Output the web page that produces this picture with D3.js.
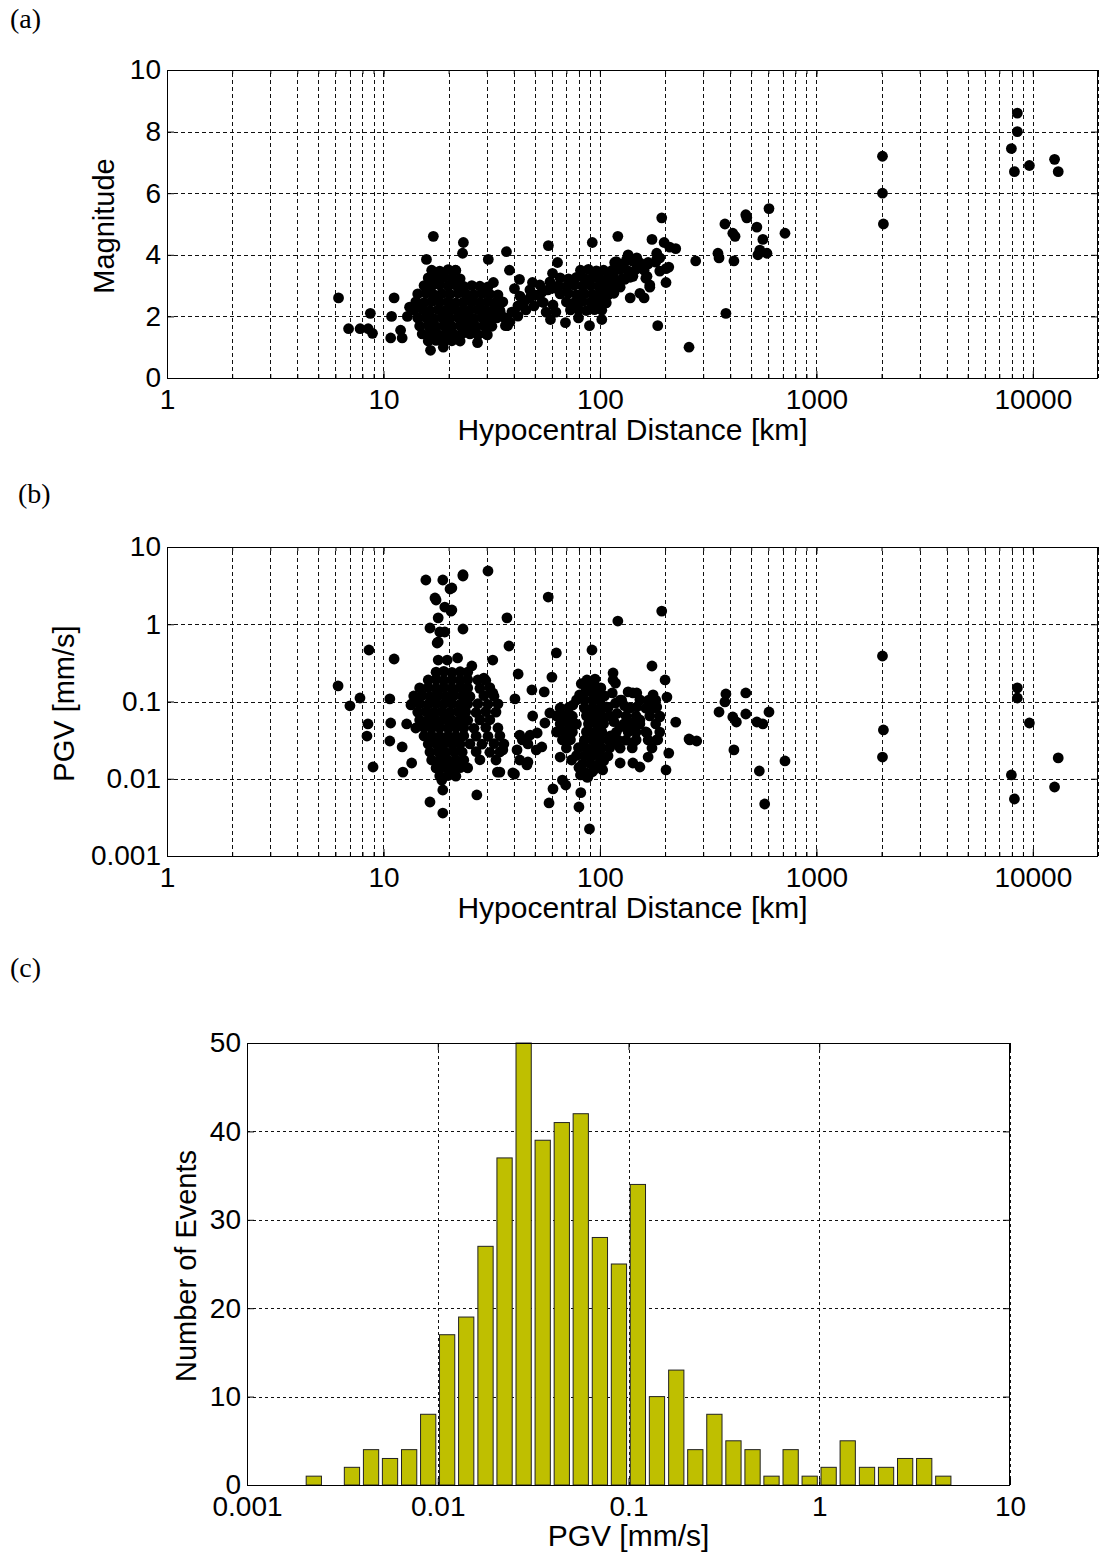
<!DOCTYPE html>
<html><head><meta charset="utf-8">
<script src="https://cdn.jsdelivr.net/npm/d3@7"></script>
<style>body{margin:0;background:#fff}</style>
</head><body>
<svg id="chart" width="1099" height="1555" xmlns="http://www.w3.org/2000/svg"></svg>
<script>
// ---------------- DATA ----------------
const distanceTicks = [1, 10, 100, 1000, 10000];
const magnitudeTicks = [0, 2, 4, 6, 8, 10];
const pgvTicks = [0.001, 0.01, 0.1, 1, 10];
const countTicks = [0, 10, 20, 30, 40, 50];

// (a) [hypocentral distance km, magnitude]
const magnitudePoints = [
[6.2,2.6],[6.9,1.6],[7.8,1.6],[8.5,1.6],[8.9,1.45],[8.7,2.1],[10.8,1.3],[10.9,2.0],[11.2,2.6],[12.2,1.3],[12.9,2.0],[13.6,2.3],[12.0,1.55],[13.2,2.3],
[15.8,3.85],[17.0,4.6],[16.5,0.9],[18.9,1.0],[23.4,4.4],[23.2,4.05],[21.5,3.5],[27.2,1.15],[30.5,3.85],[32.2,3.1],[30.2,1.4],[36.6,1.7],[37.4,1.7],[34.7,2.1],
[37,4.1],[38.2,3.5],[42.5,3.2],[40.3,2.9],[48.8,3.1],[54.8,2.45],[57.8,4.3],[63.7,3.75],[60.4,3.4],[59.1,1.9],[69.3,1.8],[79.6,1.95],[89.5,1.7],[102,1.9],[92.2,4.4],
[121,4.6],[174,4.5],[193,5.2],[198,4.4],[224,4.2],[277,3.8],[185,1.7],[258,1.0],[160,2.6],[202,3.1],[202,3.55],[135,4.0],[117,3.75],[148,3.9],[183,4.05],[208,3.6],
[382,2.1],[378,5.0],[411,4.7],[421,4.6],[472,5.3],[477,5.2],[531,4.9],[604,5.5],[716,4.7],[351,4.05],[355,3.9],[416,3.8],[566,4.5],[548,4.15],[537,4.0],[591,4.05],
[2020,7.2],[2020,6.0],[2040,5.0],[8480,8.6],[8480,8.0],[7960,7.45],[8220,6.7],[9640,6.9],[12600,7.1],[13100,6.7],
[119,3.75],[133,3.85],[167,3.75],[189,3.9],[165,3.3],[170,2.95],[138,2.6],[115,3.4],[124,2.95],[108,2.75],[100,2.55],[158,3.6],[142,3.3],[183,3.85],[210,4.25],[153,2.75],[130,3.2],
[119,3.78],[129,3.72],[141,3.8],[153,3.74],[167,3.7],[181,3.76],[114,3.5],[124,3.52],[135,3.48],[147,3.53],[160,3.5],[189,3.47],[116,3.25],[127,3.22],[138,3.27],[163,3.24],[111,3.0],[121,2.98],[170,3.02],[107,2.72],[116,2.75],
[36.4,1.95],[39.2,2.14],[41.8,2.34],[44.6,2.47],[47.5,2.6],[50.6,2.69],[54.0,2.79],[57.5,2.86],[61.3,2.92],[38.4,1.82],[41.8,2.01],[45.5,2.21],[49.6,2.34],[54.0,2.47],[42.7,2.66],[47.5,2.86],[52.8,3.02],[58.8,3.12],[56.4,2.14],[60.7,2.37],[62.6,2.14],
[81.3,3.5],[88.5,3.53],[96.3,3.48],[104,3.5],
[65.5,3.25],[71.6,3.22],[77.9,3.27],[84.8,3.24],[92.3,3.26],[100,3.22],[109,3.25],
[64.3,3.0],[70,2.97],[76.2,3.02],[83,2.99],[90.4,3.01],[98.4,2.98],[107,3.0],[116,2.97],
[65.5,2.73],[71.6,2.75],[77.9,2.71],[84.8,2.74],[92.3,2.72],[100,2.75],[109,2.7],
[70,2.47],[76.2,2.45],[83,2.49],[90.4,2.46],[98.4,2.48],[107,2.44],
[73.1,2.21],[79.6,2.23],[86.6,2.19],[94.3,2.22],[102,2.2],
[16.7,3.5],[18.2,3.47],[19.9,3.52],[21.6,3.49],
[16.1,3.25],[17.5,3.23],[19.0,3.27],[20.7,3.24],[22.6,3.22],
[15.4,3.0],[16.7,2.98],[18.2,3.02],[19.9,2.99],[21.6,3.01],[23.5,2.97],[25.6,3.0],[27.9,2.98],[30.4,2.96],
[14.4,2.73],[15.7,2.75],[17.1,2.71],[18.6,2.74],[20.3,2.72],[22.1,2.75],[24.0,2.73],[26.2,2.71],[28.5,2.74],[31.0,2.72],[33.8,2.7],
[14.1,2.47],[15.4,2.45],[16.7,2.49],[18.2,2.46],[19.9,2.48],[21.6,2.44],[23.5,2.47],[25.6,2.49],[27.9,2.45],[30.4,2.48],[33.1,2.46],[35.6,2.47],
[13.8,2.21],[15.1,2.23],[16.4,2.19],[17.9,2.22],[19.4,2.2],[21.2,2.23],[23.1,2.19],[25.1,2.21],[27.3,2.22],[29.7,2.2],[32.4,2.23],[34.5,2.2],
[14.4,1.95],[15.7,1.97],[17.1,1.93],[18.6,1.96],[20.3,1.94],[22.1,1.97],[24.0,1.95],[26.2,1.93],[28.5,1.96],[31.0,1.94],[33.4,1.95],
[14.7,1.69],[16.1,1.71],[17.5,1.67],[19.0,1.7],[20.7,1.68],[22.6,1.71],[24.5,1.69],[26.8,1.67],[29.1,1.7],[31.7,1.68],
[15.1,1.43],[16.4,1.45],[17.9,1.41],[19.4,1.44],[21.2,1.42],[23.1,1.45],[25.1,1.43],[27.3,1.41],[29.7,1.44],
[16.1,1.2],[17.5,1.22],[19.0,1.18],[20.7,1.21],[22.6,1.2]
];

// (b) [hypocentral distance km, PGV mm/s]
const pgvPoints = [
[6.17,0.159],[7.0,0.088],[7.79,0.111],[8.57,0.464],[8.48,0.0512],[8.39,0.0357],[8.95,0.0142],[11.2,0.355],[10.7,0.108],[10.8,0.0527],[10.7,0.0308],[12.2,0.0258],[12.3,0.0122],[13.5,0.016],[12.8,0.0512],[13.4,0.0902],
[15.7,3.74],[18.8,3.74],[20.3,2.86],[23.3,4.21],[30.4,4.89],[17.5,2.06],[19.2,1.67],[20.5,1.48],[17.9,1.21],[16.4,0.894],[23.3,0.868],[18.2,0.794],[17.7,0.571],
[37.2,1.21],[38.0,0.523],[32.0,0.344],[25.6,0.288],[41.9,0.227],[57.7,2.25],[62.9,0.425],[60.0,0.207],[91.9,0.464],[121,1.10],
[16.4,0.005],[18.8,0.0036],[18.8,0.00715],[27.0,0.00617],[33.6,0.0122],[40.3,0.0115],[58.2,0.00486],[60.7,0.0074],[80.0,0.00431],[81.6,0.0066],[89.5,0.00224],[69.5,0.0083],[103,0.013],[87.1,0.0105],[18.6,0.0096],
[17.9,0.344],[19.7,0.344],[22.0,0.366],[17.9,0.589],[19.2,0.794],[20.7,1.53],[17.3,2.19],[20.7,2.95],[23.3,4.37],[29.1,0.201],[32.0,0.129],
[193,1.48],[174,0.288],[200,0.19],[204,0.114],[224,0.054],[258,0.0327],[280,0.0308],[208,0.0215],[202,0.013],[115,0.234],[118,0.173],[148,0.129],[135,0.133],[176,0.122],
[382,0.125],[378,0.0986],[472,0.129],[355,0.0731],[411,0.063],[427,0.0543],[472,0.0689],[531,0.0543],[566,0.0512],[604,0.0731],[416,0.0236],[545,0.0126],[716,0.017],[577,0.00471],
[2020,0.388],[2040,0.0428],[2020,0.0191],[8480,0.15],[8480,0.111],[9640,0.0527],[7960,0.0112],[8220,0.00547],[13100,0.0186],[12600,0.00782],
[115,0.19],[114,0.129],[107,0.0849],[142,0.129],[148,0.0849],[170,0.104],[183,0.0849],[189,0.063],[153,0.0577],[138,0.0527],[124,0.0468],[165,0.0391],[183,0.0318],[142,0.029],[115,0.029],[124,0.016],[142,0.016],[153,0.0142],[167,0.0191],[260,0.0318],
[80.6,0.122],[87.1,0.19],[94.9,0.195],[92.3,0.133],[48.5,0.141],[55.3,0.133],[40.5,0.108],[48.9,0.0649],[58.7,0.071],[55.7,0.0527],[35.6,0.0236],[46.5,0.0165],[53.9,0.0258],[65.5,0.0191],[39.6,0.0119],[34.5,0.0122],[67.1,0.0096],[81.3,0.0112],[124,0.104],
[41.4,0.0236],[43.8,0.0318],[47.6,0.0368],[51.3,0.0391],[42.6,0.0175],[46.0,0.0151],[42.6,0.0368],[46.5,0.0282],[50.8,0.0236],
[82,0.17],[88,0.165],[95,0.16],[101,0.15],[86,0.135],[99,0.125],[105,0.118],[78,0.105],[75,0.09],[118,0.095],[130,0.088],[120,0.07],[116,0.055],[119,0.04],[112,0.036],[78,0.02],[74,0.0175],[80,0.014],[95,0.0135],[104,0.017],[88,0.0105],
[17.5,0.24],[19.0,0.245],[20.7,0.238],[22.6,0.243],[24.5,0.24],
[16.1,0.19],[17.5,0.193],[19.0,0.188],[20.7,0.191],[22.6,0.189],[24.5,0.192],[27.3,0.19],[29.7,0.187],
[14.7,0.15],[16.1,0.152],[17.5,0.148],[19.0,0.151],[20.7,0.149],[22.6,0.152],[24.5,0.15],[27.9,0.148],[31.0,0.151],
[13.8,0.118],[15.1,0.12],[16.4,0.116],[17.9,0.119],[19.4,0.117],[21.2,0.12],[23.1,0.118],[25.1,0.116],[29.1,0.119],[32.4,0.117],
[13.5,0.093],[14.7,0.094],[16.1,0.092],[17.5,0.0935],[19.0,0.0925],[20.7,0.094],[22.6,0.092],[24.5,0.093],[27.3,0.0935],[30.4,0.092],[33.8,0.093],
[14.4,0.073],[15.7,0.074],[17.1,0.072],[18.6,0.0735],[20.3,0.0725],[22.1,0.074],[24.0,0.073],[26.8,0.072],[29.7,0.074],[33.1,0.073],
[14.7,0.0577],[16.1,0.058],[17.5,0.057],[19.0,0.0585],[20.7,0.0575],[22.6,0.058],[24.5,0.057],[27.9,0.0578],[31.0,0.058],
[14.1,0.0454],[15.4,0.046],[16.7,0.045],[18.2,0.0458],[19.9,0.0452],[21.6,0.046],[23.5,0.0455],[26.2,0.045],[29.7,0.046],[33.8,0.0454],
[15.4,0.0357],[16.7,0.036],[18.2,0.0354],[19.9,0.0358],[21.6,0.0355],[23.5,0.036],[26.8,0.0356],[30.4,0.0354],[34.5,0.036],
[16.1,0.0282],[17.5,0.0285],[19.0,0.028],[20.7,0.0284],[22.6,0.0281],[25.1,0.0283],[28.5,0.028],[32.4,0.0285],[36.0,0.0282],
[16.4,0.0222],[17.9,0.0224],[19.4,0.022],[21.2,0.0223],[23.1,0.0221],[26.8,0.0224],[31.0,0.022],[34.5,0.0222],
[16.7,0.0175],[18.2,0.0177],[19.9,0.0173],[21.6,0.0176],[23.5,0.0174],[27.9,0.0176],[33.1,0.0175],
[17.5,0.0138],[19.0,0.014],[20.7,0.0137],[22.6,0.0139],[24.5,0.0138],
[18.2,0.0109],[19.9,0.011],[21.6,0.0108],
[84.8,0.104],[92.3,0.105],[100,0.103],[126,0.104],[153,0.105],[167,0.103],[181,0.104],
[65.5,0.0824],[71.6,0.083],[84.8,0.082],[92.3,0.0828],[100,0.0822],[109,0.083],[138,0.0824],[163,0.082],[178,0.0826],
[63,0.0649],[68.5,0.065],[74.6,0.0645],[86.6,0.0652],[94.3,0.0648],[102,0.065],[111,0.0646],[132,0.065],[147,0.0648],[170,0.0652],[189,0.0646],
[65.5,0.0512],[71.6,0.0515],[77.9,0.051],[88.5,0.0514],[96.3,0.0511],[104,0.0515],[129,0.0512],[141,0.051],[153,0.0514],[181,0.0512],
[63,0.0403],[68.5,0.0405],[74.6,0.0401],[86.6,0.0404],[94.3,0.0402],[102,0.0405],[135,0.0403],[147,0.0401],[163,0.0404],[189,0.0402],
[67.1,0.0318],[73.1,0.032],[84.8,0.0316],[92.3,0.0319],[100,0.0317],[109,0.032],[121,0.0318],[132,0.0316],[147,0.0319],[167,0.0317],[185,0.032],
[70,0.025],[79.6,0.0252],[86.6,0.0249],[94.3,0.0251],[102,0.025],[111,0.0252],[124,0.0249],[141,0.0251],[174,0.025],
[84.8,0.0197],[92.3,0.0199],[100,0.0196],[109,0.0198],
[83,0.0155],[90.4,0.0157],[98.4,0.0154],
[84.8,0.0122],[92.3,0.0123]
];

// (c) histogram of PGV (log-spaced bins, 0.1 decade)
const pgvBinCenters = [0.00224,0.00282,0.00355,0.00447,0.00562,0.00708,0.00891,0.0112,0.0141,0.0178,0.0224,0.0282,0.0355,0.0447,0.0562,0.0708,0.0891,0.112,0.141,0.178,0.224,0.282,0.355,0.447,0.562,0.708,0.891,1.12,1.41,1.78,2.24,2.82,3.55,4.47];
const eventCounts = [1,0,2,4,3,4,8,17,19,27,37,50,39,41,42,28,25,34,10,13,4,8,5,4,1,4,1,2,5,2,2,3,3,1];

// ---------------- DRAWING ----------------
const FONT = '"Liberation Sans", Arial, Helvetica, sans-serif';
const SERIF = '"Liberation Serif", "Times New Roman", serif';
const svg = d3.select('#chart');

function styleAxis(g, size) {
  g.select('.domain').remove();
  g.selectAll('line').attr('stroke', '#000');
  g.selectAll('text').attr('font-family', FONT).attr('font-size', size).attr('fill', '#000');
}

function drawGrid(g, x, y, o) {
  const [xl, xr] = x.range();
  const [yb, yt] = y.range();
  g.append('g').selectAll('line').data(o.xGrid).join('line')
    .attr('x1', d => Math.round(x(d)) + 0.5).attr('x2', d => Math.round(x(d)) + 0.5)
    .attr('y1', yb).attr('y2', yt)
    .attr('stroke', '#111').attr('stroke-width', 1).attr('stroke-dasharray', o.dash);
  g.append('g').selectAll('line').data(o.yGrid).join('line')
    .attr('y1', d => Math.round(y(d)) + 0.5).attr('y2', d => Math.round(y(d)) + 0.5)
    .attr('x1', xl).attr('x2', xr)
    .attr('stroke', '#111').attr('stroke-width', 1).attr('stroke-dasharray', o.dash);
}

function drawTicks(g, x, y, o) {
  const [xl, xr] = x.range();
  const [yb, yt] = y.range();
  const bx = g.append('g').attr('transform', `translate(0,${yb})`)
    .call(d3.axisBottom(x).tickValues(o.xMajor).tickFormat(o.xFmt).tickSizeInner(-7).tickSizeOuter(0).tickPadding(11));
  styleAxis(bx, 28);
  if (o.xMinor) {
    const bm = g.append('g').attr('transform', `translate(0,${yb})`)
      .call(d3.axisBottom(x).tickValues(o.xMinor).tickFormat('').tickSizeInner(-4).tickSizeOuter(0));
    styleAxis(bm, 1);
    const tm = g.append('g').attr('transform', `translate(0,${yt})`)
      .call(d3.axisTop(x).tickValues(o.xMinor).tickFormat('').tickSizeInner(-4).tickSizeOuter(0));
    styleAxis(tm, 1);
  }
  const tx = g.append('g').attr('transform', `translate(0,${yt})`)
    .call(d3.axisTop(x).tickValues(o.xMajor).tickFormat('').tickSizeInner(-7).tickSizeOuter(0));
  styleAxis(tx, 1);
  const ly = g.append('g').attr('transform', `translate(${xl},0)`)
    .call(d3.axisLeft(y).tickValues(o.yMajor).tickFormat(o.yFmt).tickSizeInner(-7).tickSizeOuter(0).tickPadding(6));
  styleAxis(ly, 28);
  const ry = g.append('g').attr('transform', `translate(${xr},0)`)
    .call(d3.axisRight(y).tickValues(o.yMajor).tickFormat('').tickSizeInner(-7).tickSizeOuter(0));
  styleAxis(ry, 1);
  g.append('rect').attr('x', xl + 0.5).attr('y', yt + 0.5)
    .attr('width', xr - xl - 1).attr('height', yb - yt)
    .attr('fill', 'none').attr('stroke', '#000').attr('stroke-width', 1);
  g.append('text').attr('x', (xl + xr) / 2).attr('y', yb + o.xTitleDy)
    .attr('text-anchor', 'middle').attr('font-family', FONT).attr('font-size', 30)
    .text(o.xTitle);
  g.append('text').attr('transform', `translate(${o.yTitleX},${(yb + yt) / 2 + 2}) rotate(-90)`)
    .attr('text-anchor', 'middle').attr('font-family', FONT).attr('font-size', 29)
    .text(o.yTitle);
}

const fmtNum = d => String(d);
const R = 5.4;

// ---- Panel (a)
{
  const x = d3.scaleLog().domain([1, 20000]).range([167, 1098]);
  const y = d3.scaleLinear().domain([0, 10]).range([378, 70]);
  const g = svg.append('g');
  drawGrid(g, x, y, { xGrid: x.ticks(), yGrid: magnitudeTicks, dash: '4,3' });
  drawTicks(g, x, y, { xMajor: distanceTicks, xMinor: x.ticks(), yMajor: magnitudeTicks, xFmt: fmtNum, yFmt: fmtNum,
    xTitle: 'Hypocentral Distance [km]', xTitleDy: 62, yTitle: 'Magnitude', yTitleX: 114 });
  g.append('g').selectAll('circle').data(magnitudePoints).join('circle')
    .attr('cx', d => x(d[0])).attr('cy', d => y(d[1])).attr('r', R).attr('fill', '#000');
  svg.append('text').attr('x', 10).attr('y', 28).attr('font-family', SERIF).attr('font-size', 28).text('(a)');
}

// ---- Panel (b)
{
  const x = d3.scaleLog().domain([1, 20000]).range([167, 1098]);
  const y = d3.scaleLog().domain([0.001, 10]).range([856, 547]);
  const g = svg.append('g');
  drawGrid(g, x, y, { xGrid: x.ticks(), yGrid: pgvTicks, dash: '4,3' });
  drawTicks(g, x, y, { xMajor: distanceTicks, xMinor: x.ticks(), yMajor: pgvTicks, xFmt: fmtNum, yFmt: fmtNum,
    xTitle: 'Hypocentral Distance [km]', xTitleDy: 62, yTitle: 'PGV [mm/s]', yTitleX: 74 });
  g.append('g').selectAll('circle').data(pgvPoints).join('circle')
    .attr('cx', d => x(d[0])).attr('cy', d => y(d[1])).attr('r', R).attr('fill', '#000');
  svg.append('text').attr('x', 18).attr('y', 503).attr('font-family', SERIF).attr('font-size', 28).text('(b)');
}

// ---- Panel (c)
{
  const x = d3.scaleLog().domain([0.001, 10]).range([247, 1010]);
  const y = d3.scaleLinear().domain([0, 50]).range([1485, 1043]);
  const g = svg.append('g');
  drawGrid(g, x, y, { xGrid: pgvTicks, yGrid: countTicks, dash: '3,3' });
  const halfWidthDecades = 0.04;
  const bins = pgvBinCenters.map((c, i) => ({ c, n: eventCounts[i] })).filter(b => b.n > 0);
  g.append('g').selectAll('rect').data(bins).join('rect')
    .attr('x', d => x(d.c / Math.pow(10, halfWidthDecades)))
    .attr('width', d => x(d.c * Math.pow(10, halfWidthDecades)) - x(d.c / Math.pow(10, halfWidthDecades)))
    .attr('y', d => y(d.n)).attr('height', d => y(0) - y(d.n))
    .attr('fill', '#bfbf00').attr('stroke', '#222').attr('stroke-width', 1);
  drawTicks(g, x, y, { xMajor: pgvTicks, yMajor: countTicks, xFmt: fmtNum, yFmt: fmtNum,
    xTitle: 'PGV [mm/s]', xTitleDy: 61, yTitle: 'Number of Events', yTitleX: 196 });
  svg.append('text').attr('x', 10).attr('y', 977).attr('font-family', SERIF).attr('font-size', 28).text('(c)');
}
</script>
</body></html>
